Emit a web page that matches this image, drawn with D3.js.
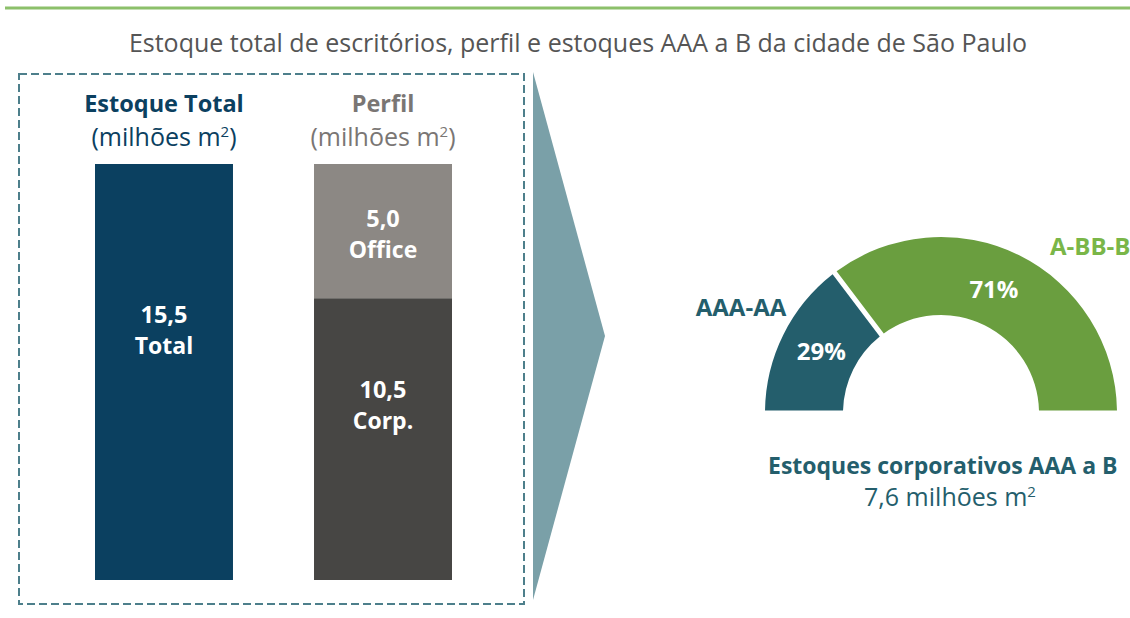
<!DOCTYPE html>
<html>
<head>
<meta charset="utf-8">
<script src="https://cdn.jsdelivr.net/npm/d3@7"></script>
<style>
  body { margin: 0; background: #fff; }
  svg text { font-family: "Open Sans", Roboto, sans-serif; }
</style>
</head>
<body>
<div id="chart"></div>
<script>

// data
var totalCats = ["Total"];
var totalValues = [15.5];
var profileCats = ["Corp.", "Office"];
var profileValues = [10.5, 5.0];
var gradeCats = ["AAA-AA", "A-BB-B"];
var gradeShares = [29, 71];
var stockAAAtoB = 7.6;

var W = 1130, H = 618;

var svg = d3.select("#chart")
    .append("svg")
    .attr("width", W)
    .attr("height", H);

// top rule + title
svg.append("line")
    .attr("x1", 5).attr("x2", W)
    .attr("y1", 8).attr("y2", 8)
    .attr("stroke", "#8cc06a")
    .attr("stroke-width", 3);

svg.append("text")
    .attr("x", 578)
    .attr("y", 52)
    .attr("text-anchor", "middle")
    .attr("fill", "#555")
    .style("font-size", "25px")
    .text("Estoque total de escritórios, perfil e estoques AAA a B da cidade de São Paulo");

// dashed frame
svg.append("rect")
    .attr("x", 19).attr("y", 74)
    .attr("width", 505).attr("height", 530)
    .attr("fill", "none")
    .attr("stroke", "#4d7f8b")
    .attr("stroke-width", 2)
    .attr("stroke-dasharray", "8,4");

// arrow
svg.append("path")
    .attr("d", "M533,72 L605,336 L533,600 Z")
    .attr("fill", "#7aa0a8");

// bars
var yScale = d3.scaleLinear()
    .domain([0, 15.5])
    .range([580, 164]);

var xScale = d3.scaleBand()
    .domain(["total", "perfil"])
    .range([95, 452])
    .paddingInner(0.37)
    .paddingOuter(0);

function header(key, title, color) {
    var cx = xScale(key) + xScale.bandwidth() / 2;
    var g = svg.append("text")
        .attr("text-anchor", "middle")
        .attr("fill", color);
    g.append("tspan").attr("x", cx).attr("y", 112)
        .style("font-weight", "bold").style("font-size", "23.5px").text(title);
    var t = g.append("tspan").attr("x", cx).attr("y", 146).style("font-size", "25px").text("(milhões m");
    t.append("tspan").attr("dy", -9).style("font-size", "15px").text("2");
    g.append("tspan").attr("dy", 9).style("font-size", "25px").text(")");
}
header("total", "Estoque Total", "#0b4060");
header("perfil", "Perfil", "#7a7674");

function stack(key, cats, values, colors, labelPos) {
    var base = 0;
    cats.forEach(function (c, i) {
        var y0 = yScale(base), y1 = yScale(base + values[i]);
        svg.append("rect")
            .attr("x", xScale(key))
            .attr("y", y1)
            .attr("width", xScale.bandwidth())
            .attr("height", y0 - y1)
            .attr("fill", colors[i]);
        var cy = y1 + (y0 - y1) * labelPos[i];
        var cx = xScale(key) + xScale.bandwidth() / 2;
        svg.append("text")
            .attr("x", cx).attr("y", cy - 7)
            .attr("text-anchor", "middle")
            .attr("fill", "#fff")
            .style("font-size", "23.5px").style("font-weight", "bold")
            .text(d3.format(".1f")(values[i]).replace(".", ","));
        svg.append("text")
            .attr("x", cx).attr("y", cy + 24)
            .attr("text-anchor", "middle")
            .attr("fill", "#fff")
            .style("font-size", "23px").style("font-weight", "bold")
            .text(c);
        base += values[i];
    });
}
stack("total", totalCats, totalValues, ["#0b4060"], [0.4]);
stack("perfil", profileCats, profileValues, ["#474644", "#8c8884"], [0.38, 0.52]);

// half donut
var cx = 941, cy = 413;
var pie = d3.pie()
    .sort(null)
    .startAngle(-Math.PI / 2)
    .endAngle(Math.PI / 2)
    .padAngle(0.025);
var arc = d3.arc().innerRadius(98).outerRadius(176);
var labelArc = d3.arc().innerRadius(137).outerRadius(137);
var gradeColors = ["#245e6c", "#6a9e3f"];

var gauge = svg.append("g").attr("transform", "translate(" + cx + "," + cy + ")");
var arcs = pie(gradeShares);

gauge.selectAll(".slice")
    .data(arcs).enter()
    .append("path")
    .attr("class", "slice")
    .attr("d", arc)
    .attr("fill", function (d, i) { return gradeColors[i]; });

gauge.selectAll(".pct")
    .data(arcs).enter()
    .append("text")
    .attr("class", "pct")
    .attr("transform", function (d) {
        var c = labelArc.centroid(d);
        return "translate(" + (c[0] + (d.index ? -8 : 3)) + "," + (c[1] + 8) + ")";
    })
    .attr("text-anchor", "middle")
    .attr("fill", "#fff")
    .style("font-size", "24px").style("font-weight", "bold")
    .text(function (d) { return d.data + "%"; });

svg.append("text")
    .attr("x", 741).attr("y", 316)
    .attr("text-anchor", "middle")
    .attr("fill", gradeColors[0])
    .style("font-size", "24px").style("font-weight", "bold")
    .text(gradeCats[0]);

svg.append("text")
    .attr("x", 1050).attr("y", 255)
    .attr("fill", "#7ab648")
    .style("font-size", "24px").style("font-weight", "bold")
    .text(gradeCats[1]);

svg.append("text")
    .attr("x", 768).attr("y", 474)
    .attr("fill", "#245e6c")
    .style("font-size", "23px").style("font-weight", "bold")
    .text("Estoques corporativos AAA a B");

var sub = svg.append("text")
    .attr("x", 950).attr("y", 506)
    .attr("text-anchor", "middle")
    .attr("fill", "#245e6c")
    .style("font-size", "25px");
sub.append("tspan").text(String(stockAAAtoB).replace(".", ",") + " milhões m");
sub.append("tspan").attr("dy", -9).style("font-size", "15px").text("2");

</script>
</body>
</html>
